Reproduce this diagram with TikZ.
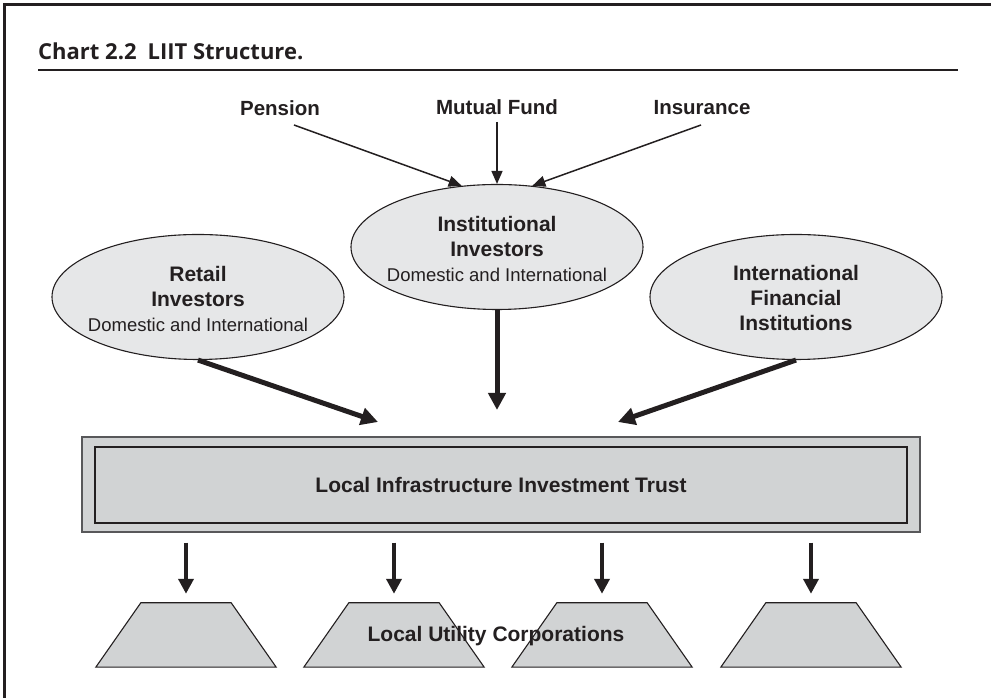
\documentclass[tikz,border=0pt]{standalone}
\usepackage{fontspec}
\setmainfont{Liberation Sans}
\newfontfamily\titlefont{Open Sans}
\usetikzlibrary{arrows.meta,shapes.geometric}

\definecolor{ink}{HTML}{231F20}
\definecolor{ovalfill}{HTML}{E6E7E8}
\definecolor{boxfill}{HTML}{D1D3D4}
\definecolor{boxedge}{HTML}{58585A}

\newcommand\subline{\fontsize{18.5}{25}\selectfont\mdseries}

\begin{document}
\begin{tikzpicture}[x=1pt,y=1pt,
  every node/.style={text=ink, inner sep=0pt},
  source/.style={font=\fontsize{20.5}{24}\selectfont\bfseries},
  investor/.style={ellipse, draw=ink, line width=1.1pt, fill=ovalfill,
    minimum width=292pt, minimum height=125pt},
  investorlabel/.style={align=center, font=\fontsize{21}{25}\selectfont\bfseries},
  feed/.style={draw=ink, line width=1.5pt, -{Triangle[length=13pt,width=11pt]}},
  flow/.style={draw=ink, line width=5pt, -{Triangle[length=17pt,width=17pt]}},
  payout/.style={draw=ink, line width=4pt, -{Triangle[length=15pt,width=15pt]},
    shorten <=10pt, shorten >=9pt},
  utilitytop/.style={minimum width=90pt, minimum height=64pt},
  utility/.style={draw=ink, line width=1.1pt, fill=boxfill, line join=miter},
]
\useasboundingbox (0,0) rectangle (991,698);

% page frame (top and left edges only)
\draw[ink, line width=3pt] (4.5,0) -- (4.5,693.5) -- (991,693.5);

% heading and rule
\node[anchor=base west, font=\titlefont\bfseries\fontsize{22}{24}\selectfont]
  (title) at (38,638) {Chart 2.2\enspace LIIT Structure.};
\draw[ink, line width=1.2pt] (38,628) -- (958,628);

% sources of institutional money
\node[source] (pension) at (280,590) {Pension};
\node[source] (mutual)  at (497,591) {Mutual Fund};
\node[source] (insur)   at (702,590) {Insurance};

% investor groups (fixed-size ovals with their captions laid on top)
\node[investor] (inst)   at (497,451) {};
\node[investor] (retail) at (198,401) {};
\node[investor] (ifi)    at (796,401) {};
\node[investorlabel] (instlabel)   at (497,449) {Institutional\\Investors\\{\subline Domestic and International}};
\node[investorlabel] (retaillabel) at (198,399) {Retail\\Investors\\{\subline Domestic and International}};
\node[investorlabel] (ifilabel)    at (796,400) {International\\Financial\\Institutions};

% feeders into institutional investors
\coordinate (penout) at (294,573);
\coordinate (mutout) at (497,576);
\coordinate (insout) at (701,573);
\draw[feed] (penout) -- (inst.120);
\draw[feed] (mutout) -- (inst.north);
\draw[feed] (insout) -- (inst.60);

% the trust
\node[draw=boxedge, line width=1.2pt, fill=boxfill, minimum width=838pt, minimum height=95pt]
  (trustbox) at (501,213.5) {};
\node[draw=ink, line width=1.5pt, fill=boxfill, minimum width=812pt, minimum height=76pt,
  font=\fontsize{21}{25}\selectfont\bfseries] (trust) at (501,213) {Local Infrastructure Investment Trust};

% capital flowing into the trust
\coordinate (retin) at (378,276);
\coordinate (instin) at (497,288);
\coordinate (ifiin) at (618,276);
\draw[flow] (retail.south) -- (retin);
\draw[flow] (inst.south) -- (instin);
\draw[flow] (ifi.south) -- (ifiin);

% local utility corporations: trapezoids built on the top edge of each node
\foreach \u/\x in {u1/186,u2/394,u3/602,u4/811}{
  \node[utilitytop] (\u) at (\x,63) {};
  \draw[utility] (\u.north west) -- (\u.north east) -- ([xshift=45pt]\u.south east)
    -- ([xshift=-45pt]\u.south west) -- cycle;
}
\node[font=\fontsize{21}{25}\selectfont\bfseries] (utilities) at (496,62) {Local Utility Corporations};

\foreach \u in {u1,u2,u3,u4}
  \draw[payout] (\u.north |- trustbox.south) -- (\u.north);
\end{tikzpicture}
\end{document}
